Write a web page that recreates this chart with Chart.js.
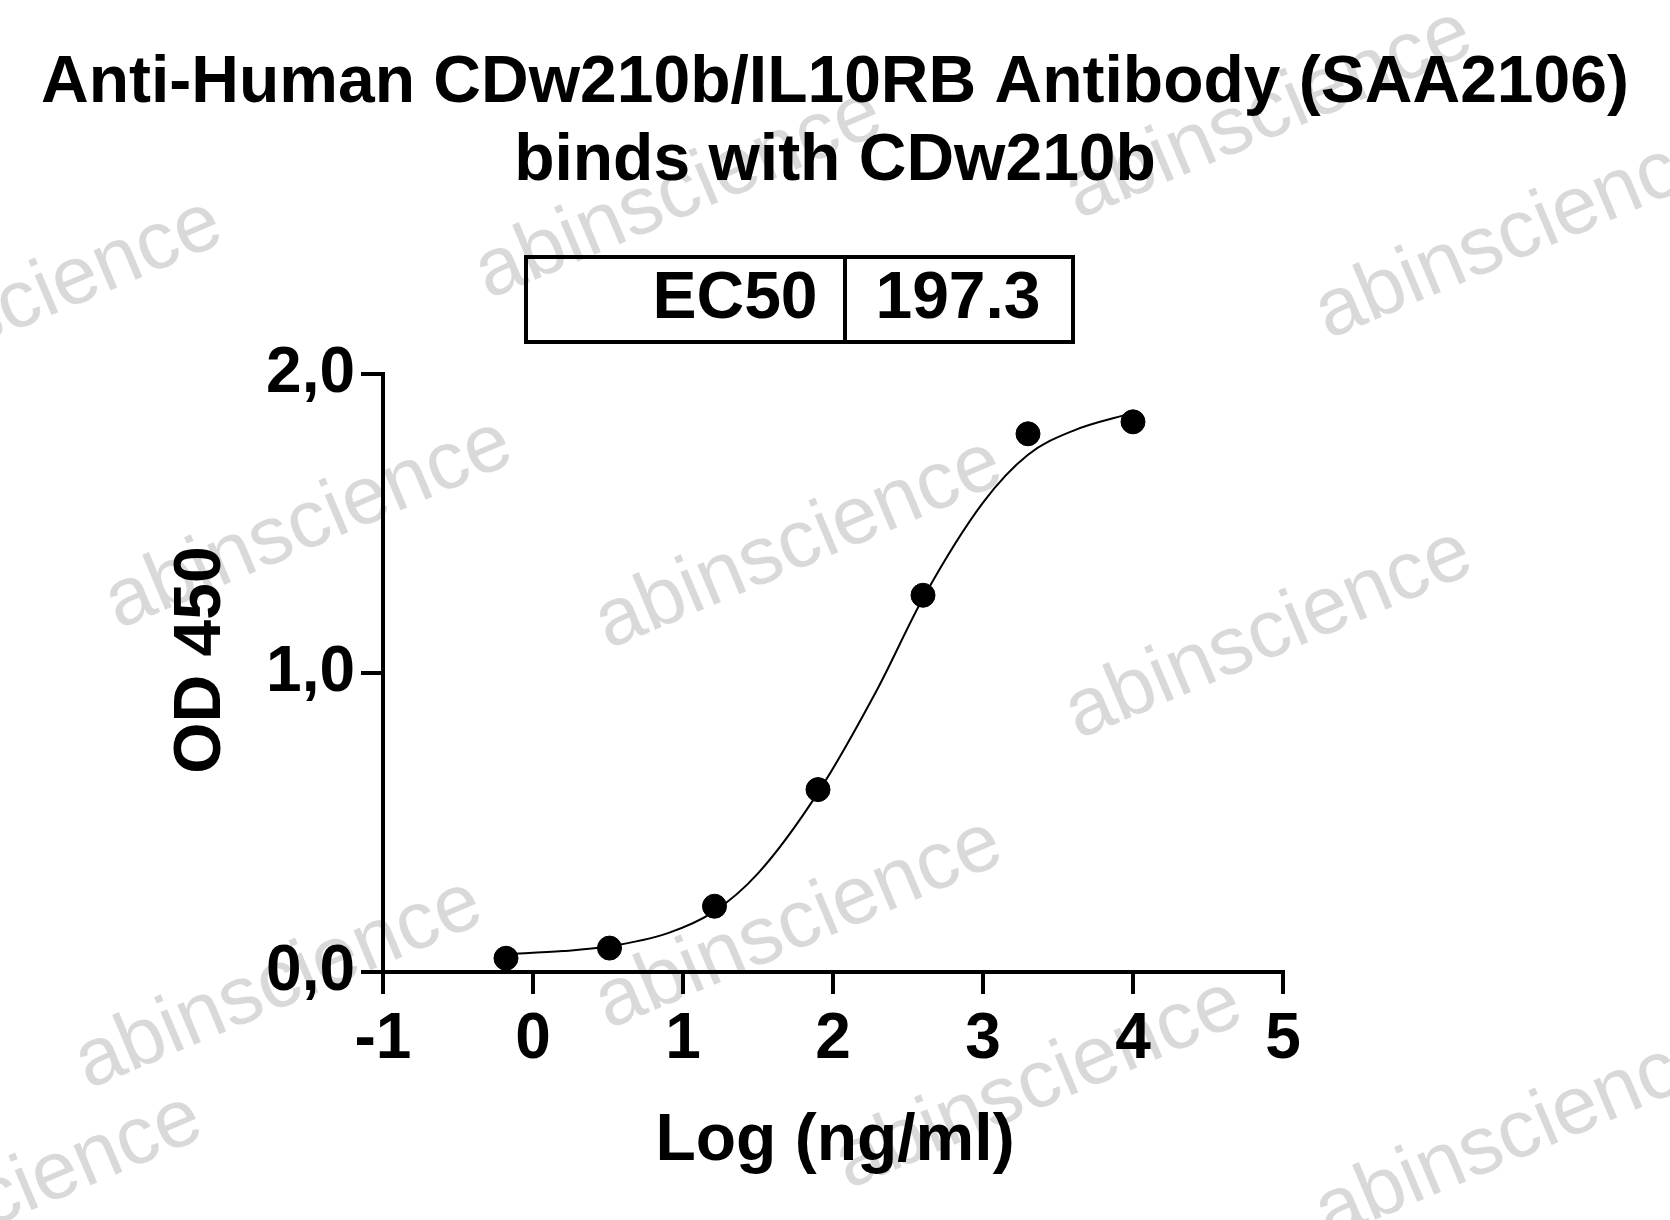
<!DOCTYPE html>
<html><head><meta charset="utf-8">
<script src="https://cdn.jsdelivr.net/npm/chart.js@4"></script>
<style>html,body{margin:0;padding:0;background:#fff}#wrap{width:1670px;height:1220px}</style>
</head><body><div id="wrap"><canvas id="c"></canvas></div>
<script>
const pointX = [-0.18, 0.51, 1.21, 1.9, 2.6, 3.3, 4.0];
const pointY = [0.046, 0.08, 0.22, 0.61, 1.26, 1.80, 1.84];
const curveX = [-0.18, 0.2, 0.5, 0.9, 1.2, 1.5, 1.9, 2.3, 2.6, 3.0, 3.3, 3.6, 4.0];
const curveY = [0.06, 0.07, 0.085, 0.13, 0.2, 0.33, 0.6, 0.95, 1.25, 1.57, 1.73, 1.81, 1.87];
const xTicks = [-1, 0, 1, 2, 3, 4, 5];
const yTicks = [0, 1, 2];
const titleLines = ['Anti-Human CDw210b/IL10RB Antibody (SAA2106)', 'binds with CDw210b'];
const ec50Label = 'EC50', ec50Value = '197.3';

const FONT = '"Liberation Sans", Arial, sans-serif';
const deco = {
  id: 'deco',
  beforeDraw(ch) {
    const c = ch.ctx; c.save();
    c.fillStyle = 'rgba(180,180,180,0.5)'; c.font = '82px ' + FONT;
    const wm = [[330,540],[820,560],[1290,650],[300,1000],[1060,1100],[820,940],[40,320],[20,1215],[1540,250],[1540,1150],[700,210],[1290,130]];
    wm.forEach(([x,y]) => { c.save(); c.translate(x,y); c.rotate(-0.4); c.fillText('abinscience', -230, 0); c.restore(); });
    c.restore();
  },
  afterDraw(ch) {
    const c = ch.ctx; c.save();
    c.fillStyle = '#000'; c.textAlign = 'center'; c.textBaseline = 'middle';
    c.font = 'bold 66px ' + FONT;
    c.fillText(titleLines[0], 835, 84);
    c.fillText(titleLines[1], 835, 162);
    c.strokeStyle = '#000'; c.lineWidth = 4;
    c.strokeRect(526, 257, 547, 85);
    c.beginPath(); c.moveTo(845, 257); c.lineTo(845, 342); c.stroke();
    c.font = 'bold 66px ' + FONT;
    c.fillText(ec50Label, 735, 300);
    c.fillText(ec50Value, 958, 300);
    c.fillText('Log (ng/ml)', 835, 1142);
    c.save(); c.translate(202, 660); c.rotate(-Math.PI/2); c.fillText('OD 450', 0, 0); c.restore();
    c.restore();
  }
};

new Chart(document.getElementById('c'), {
  type: 'scatter',
  data: { datasets: [
    { data: curveX.map((x,i)=>({x, y: curveY[i]})), showLine: true, borderColor: '#000', borderWidth: 2, pointRadius: 0, tension: 0.4, cubicInterpolationMode: 'monotone' },
    { data: pointX.map((x,i)=>({x, y: pointY[i]})), backgroundColor: '#000', borderColor: '#000', pointRadius: 12 }
  ]},
  options: {
    responsive: true, maintainAspectRatio: false, animation: false,
    layout: { padding: { left: 0, top: 374, right: 387, bottom: 0 } },
    plugins: { legend: { display: false }, tooltip: { enabled: false } },
    scales: {
      x: { type: 'linear', min: -1, max: 5,
        afterBuildTicks: s => { s.ticks = xTicks.map(v=>({value:v})); },
        afterFit: s => { s.height = 248; },
        grid: { drawOnChartArea: false, drawTicks: true, tickLength: 22, color: '#000', lineWidth: 4 },
        border: { color: '#000', width: 4 },
        ticks: { color: '#000', font: { family: FONT, size: 64, weight: 'bold' }, padding: 8 } },
      y: { min: 0, max: 2,
        afterBuildTicks: s => { s.ticks = yTicks.map(v=>({value:v})); },
        afterFit: s => { s.width = 383; },
        grid: { drawOnChartArea: false, drawTicks: true, tickLength: 22, color: '#000', lineWidth: 4 },
        border: { color: '#000', width: 4 },
        ticks: { color: '#000', font: { family: FONT, size: 64, weight: 'bold' }, padding: 6, callback: v => v.toFixed(1).replace('.', ',') } }
    }
  },
  plugins: [deco]
});
</script></body></html>
